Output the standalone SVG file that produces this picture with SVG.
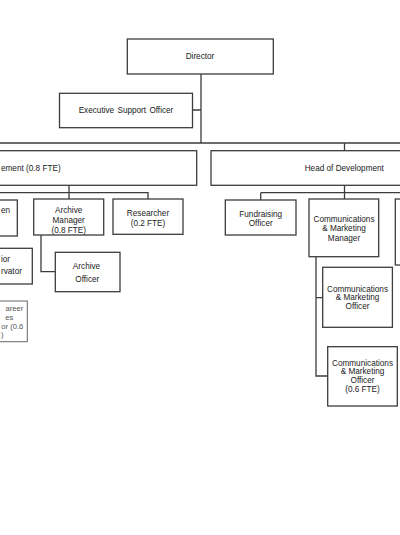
<svg xmlns="http://www.w3.org/2000/svg" width="400" height="535" viewBox="0 0 400 535">
<style>
.b{fill:#fff;stroke:#3c3c3c;stroke-width:1.3}
.l{fill:none;stroke:#3c3c3c;stroke-width:1.3}
.t{font-family:"Liberation Sans",Arial,sans-serif;font-size:8.2px;fill:#222;text-anchor:middle}
.e{text-anchor:end}
.s{text-anchor:start}
.g{font-size:7.6px;fill:#555}
</style>
<rect width="400" height="535" fill="#fff"/>
<g id="connectors">
<path class="l" d="M201,74V143M192.7,110H201M0,143H400M344.5,143V150.7"/>
<path class="l" d="M69,185.3V199M0,192.7H148V199M41,235V271.7H55.3"/>
<path class="l" d="M344.5,185.3V199M260.7,192.7H400M260.7,192.7V200M316,256.7V376H327.7M316,297.7H322.7"/>
</g>
<g id="director"><rect class="b" x="127.3" y="39" width="146" height="35"/><text class="t" x="200" y="59">Director</text></g>
<g id="exec"><rect class="b" x="59.5" y="93.3" width="133" height="34.4"/><text class="t" x="126" y="113" word-spacing="1">Executive Support Officer</text></g>
<g id="head-left"><rect class="b" x="-5" y="150.7" width="201.7" height="34.6"/><text class="t s" x="1" y="170.7">ement (0.8 FTE)</text></g>
<g id="head-dev"><rect class="b" x="211" y="150.7" width="200" height="34.6"/><text class="t" x="344.3" y="170.7">Head of Development</text></g>
<g id="box-en"><rect class="b" x="-20" y="200" width="37.3" height="36"/><text class="t s" x="1" y="213">en</text></g>
<g id="archive-manager"><rect class="b" x="33.7" y="199" width="70" height="36"/><text class="t" x="68.7" y="213.3">Archive</text><text class="t" x="68.7" y="223.3">Manager</text><text class="t" x="68.7" y="233.2">(0.8 FTE)</text></g>
<g id="researcher"><rect class="b" x="113" y="199" width="70" height="35.3"/><text class="t" x="148" y="215.7">Researcher</text><text class="t" x="148" y="226.3">(0.2 FTE)</text></g>
<g id="fundraising"><rect class="b" x="225.3" y="200" width="70.7" height="35"/><text class="t" x="260.7" y="217">Fundraising</text><text class="t" x="260.7" y="226.3">Officer</text></g>
<g id="comms-manager"><rect class="b" x="309" y="199" width="69.7" height="57.7"/><text class="t" x="344" y="222">Communications</text><text class="t" x="344" y="231.3">&amp; Marketing</text><text class="t" x="344" y="241.3">Manager</text></g>
<g id="right-partial"><rect class="b" x="395.3" y="199" width="20" height="66"/></g>
<g id="conservator"><rect class="b" x="-20" y="248.3" width="52.3" height="35.7"/><text class="t s" x="1" y="262.3">ior</text><text class="t s" x="1" y="274">rvator</text></g>
<g id="archive-officer"><rect class="b" x="55.3" y="252.3" width="64.7" height="39.4"/><text class="t" x="86.5" y="268.7">Archive</text><text class="t" x="87.3" y="282">Officer</text></g>
<g id="careers"><rect class="b" x="-20" y="301" width="47.3" height="40.7" style="stroke:#666;stroke-width:1"/><text class="t e g" x="23.3" y="311.3">areer</text><text class="t e g" x="13.3" y="319.7">es</text><text class="t e g" x="23.3" y="329">or (0.6</text><text class="t e g" x="3.5" y="337.3">)</text></g>
<g id="comms-officer"><rect class="b" x="322.7" y="267.3" width="69.7" height="60"/><text class="t" x="357.5" y="292">Communications</text><text class="t" x="357.5" y="300.3">&amp; Marketing</text><text class="t" x="357.5" y="308.7">Officer</text></g>
<g id="comms-officer-06"><rect class="b" x="327.7" y="346.7" width="69.6" height="59.3"/><text class="t" x="362.5" y="366.3">Communications</text><text class="t" x="362.5" y="374">&amp; Marketing</text><text class="t" x="362.5" y="383">Officer</text><text class="t" x="362.5" y="392">(0.6 FTE)</text></g>
</svg>
